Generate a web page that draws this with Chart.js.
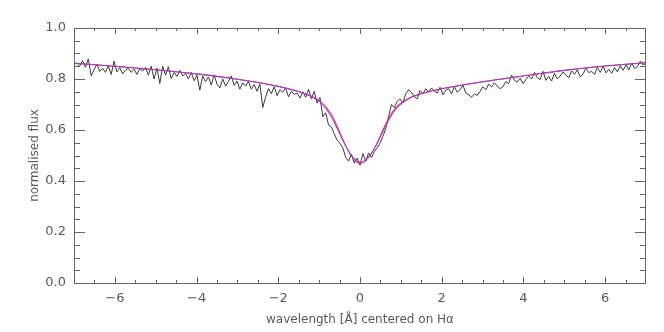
<!DOCTYPE html>
<html>
<head>
<meta charset="utf-8">
<script src="https://cdn.jsdelivr.net/npm/chart.js@4/dist/chart.umd.min.js"></script>
<style>
  html, body { margin: 0; padding: 0; background: #fff; }
  #c { display: block; }
</style>
</head>
<body>
<canvas id="c" width="664" height="332"></canvas>
<script>
// observed spectrum, wavelength offset from H-alpha (Angstrom)
const wave = [
  -7.00,-6.93,-6.86,-6.79,-6.72,-6.65,-6.58,-6.51,-6.44,-6.37,
  -6.30,-6.23,-6.16,-6.09,-6.02,-5.95,-5.88,-5.81,-5.74,-5.67,
  -5.60,-5.53,-5.46,-5.39,-5.32,-5.25,-5.18,-5.11,-5.04,-4.97,
  -4.90,-4.83,-4.76,-4.69,-4.62,-4.55,-4.48,-4.41,-4.34,-4.27,
  -4.20,-4.13,-4.06,-3.99,-3.92,-3.85,-3.78,-3.71,-3.64,-3.57,
  -3.50,-3.43,-3.36,-3.29,-3.22,-3.15,-3.08,-3.01,-2.94,-2.87,
  -2.80,-2.73,-2.66,-2.59,-2.52,-2.45,-2.38,-2.31,-2.24,-2.17,
  -2.10,-2.03,-1.96,-1.89,-1.82,-1.75,-1.68,-1.61,-1.54,-1.47,
  -1.40,-1.33,-1.26,-1.19,-1.12,-1.05,-0.98,-0.91,-0.84,-0.77,
  -0.70,-0.63,-0.56,-0.49,-0.42,-0.35,-0.28,-0.21,-0.14,-0.07,
  0.00,0.07,0.14,0.21,0.28,0.35,0.42,0.49,0.56,0.63,
  0.70,0.77,0.84,0.91,0.98,1.05,1.12,1.19,1.26,1.33,
  1.40,1.47,1.54,1.61,1.68,1.75,1.82,1.89,1.96,2.03,
  2.10,2.17,2.24,2.31,2.38,2.45,2.52,2.59,2.66,2.73,
  2.80,2.87,2.94,3.01,3.08,3.15,3.22,3.29,3.36,3.43,
  3.50,3.57,3.64,3.71,3.78,3.85,3.92,3.99,4.06,4.13,
  4.20,4.27,4.34,4.41,4.48,4.55,4.62,4.69,4.76,4.83,
  4.90,4.97,5.04,5.11,5.18,5.25,5.32,5.39,5.46,5.53,
  5.60,5.67,5.74,5.81,5.88,5.95,6.02,6.09,6.16,6.23,
  6.30,6.37,6.44,6.51,6.58,6.65,6.72,6.79,6.86,6.93,
  7.00
];
const flux = [
  0.858,0.862,0.851,0.872,0.846,0.879,0.812,0.836,0.858,0.830,
  0.842,0.826,0.851,0.818,0.870,0.828,0.845,0.820,0.835,0.842,
  0.826,0.838,0.818,0.840,0.831,0.846,0.815,0.850,0.800,0.843,
  0.782,0.850,0.815,0.848,0.802,0.826,0.810,0.834,0.812,0.822,
  0.800,0.826,0.793,0.815,0.756,0.812,0.790,0.808,0.776,0.816,
  0.780,0.765,0.800,0.772,0.790,0.812,0.775,0.792,0.760,0.785,
  0.772,0.790,0.760,0.778,0.752,0.780,0.688,0.730,0.762,0.742,
  0.770,0.735,0.758,0.748,0.765,0.730,0.752,0.740,0.745,0.725,
  0.750,0.728,0.760,0.722,0.752,0.705,0.728,0.652,0.668,0.620,
  0.612,0.585,0.560,0.548,0.530,0.492,0.478,0.505,0.470,0.490,
  0.462,0.508,0.478,0.510,0.492,0.515,0.530,0.548,0.575,0.605,
  0.652,0.700,0.688,0.712,0.722,0.706,0.742,0.758,0.748,0.730,
  0.722,0.755,0.742,0.762,0.748,0.765,0.752,0.745,0.768,0.738,
  0.756,0.762,0.742,0.770,0.748,0.758,0.775,0.745,0.738,0.728,
  0.742,0.735,0.752,0.770,0.758,0.780,0.768,0.785,0.772,0.762,
  0.770,0.790,0.782,0.815,0.795,0.788,0.803,0.782,0.798,0.812,
  0.800,0.826,0.805,0.798,0.830,0.795,0.810,0.792,0.822,0.800,
  0.812,0.828,0.815,0.805,0.832,0.818,0.836,0.808,0.820,0.842,
  0.825,0.830,0.818,0.846,0.826,0.850,0.824,0.838,0.822,0.845,
  0.828,0.852,0.834,0.855,0.836,0.862,0.842,0.848,0.870,0.855,
  0.862
];

// model fits, sampled
const fitWave = [-7,-6,-5,-4,-3,-2,-1.5,-1.25,-1,-0.85,-0.7,-0.55,-0.4,-0.25,-0.1,0,
  0.1,0.25,0.4,0.55,0.7,0.85,1,1.25,1.5,2,3,4,5,6,7];
const fitPurple = [0.862,0.850,0.836,0.820,0.799,0.771,0.750,0.735,0.712,0.688,0.652,0.604,0.553,0.510,0.481,0.474,
  0.479,0.502,0.540,0.590,0.638,0.677,0.702,0.727,0.742,0.762,0.789,0.812,0.834,0.851,0.864];
const fitRed = [0.862,0.850,0.836,0.820,0.799,0.771,0.751,0.737,0.716,0.695,0.661,0.612,0.556,0.508,0.476,0.469,
  0.474,0.500,0.543,0.597,0.646,0.684,0.706,0.729,0.743,0.762,0.789,0.812,0.834,0.851,0.864];

// axis ticks
const xMajor = [-6,-4,-2,0,2,4,6];
const xMinor = [-6.5,-5.5,-5,-4.5,-3.5,-3,-2.5,-1.5,-1,-0.5,0.5,1,1.5,2.5,3,3.5,4.5,5,5.5,6.5];
const yMajor = [0.2,0.4,0.6,0.8];
const yMinor = [0.05,0.1,0.15,0.25,0.3,0.35,0.45,0.5,0.55,0.65,0.7,0.75,0.85,0.9,0.95];

const axisColor = '#666';
const textColor = '#5a5a5a';

function pairs(xs, ys) {
  return xs.map((x, i) => ({ x: x, y: ys[i] }));
}

// IDL style frame with inward ticks on all four sides
const framePlugin = {
  id: 'frame',
  afterDatasetsDraw(chart) {
    const ctx = chart.ctx;
    const a = chart.chartArea;
    const xs = chart.scales.x, ys = chart.scales.y;
    ctx.save();
    ctx.strokeStyle = axisColor;
    ctx.lineWidth = 1;
    ctx.strokeRect(a.left + 0.5, a.top + 0.5, a.right - a.left - 1, a.bottom - a.top);
    ctx.beginPath();
    function xt(v, len) {
      const p = Math.round(xs.getPixelForValue(v)) + 0.5;
      ctx.moveTo(p, a.bottom); ctx.lineTo(p, a.bottom - len);
      ctx.moveTo(p, a.top); ctx.lineTo(p, a.top + len);
    }
    function yt(v, len) {
      const p = Math.round(ys.getPixelForValue(v)) + 0.5;
      ctx.moveTo(a.left, p); ctx.lineTo(a.left + len, p);
      ctx.moveTo(a.right, p); ctx.lineTo(a.right - len, p);
    }
    xMajor.forEach(v => xt(v, 6));
    xMinor.forEach(v => xt(v, 3));
    yMajor.forEach(v => yt(v, 11));
    yMinor.forEach(v => yt(v, 6));
    ctx.stroke();
    ctx.restore();
  }
};

new Chart(document.getElementById('c'), {
  type: 'line',
  data: {
    datasets: [
      {
        label: 'fit',
        data: pairs(fitWave, fitPurple),
        borderColor: '#9a44c8',
        borderWidth: 1.1,
        pointRadius: 0,
        cubicInterpolationMode: 'monotone',
        order: 1
      },
      {
        label: 'fit2',
        data: pairs(fitWave, fitRed),
        borderColor: '#e8204e',
        borderWidth: 1,
        pointRadius: 0,
        cubicInterpolationMode: 'monotone',
        order: 2
      },
      {
        label: 'spectrum',
        data: pairs(wave, flux),
        borderColor: '#3a3a3a',
        borderWidth: 1,
        pointRadius: 0,
        tension: 0,
        order: 3
      }
    ]
  },
  options: {
    responsive: false,
    animation: false,
    layout: { padding: { top: 28, right: 18, left: 0, bottom: 0 } },
    plugins: { legend: { display: false }, tooltip: { enabled: false } },
    scales: {
      x: {
        type: 'linear',
        min: -7,
        max: 7,
        grid: { display: false, drawTicks: false },
        border: { display: false },
        afterBuildTicks: s => { s.ticks = xMajor.map(v => ({ value: v })); },
        ticks: {
          padding: 8,
          color: textColor,
          font: { family: 'DejaVu Sans', size: 13 },
          maxRotation: 0,
          autoSkip: false,
          callback: v => v < 0 ? '\u2212' + Math.abs(v) : String(v)
        },
        title: {
          display: true,
          text: 'wavelength [Å] centered on Hα',
          color: textColor,
          font: { family: 'DejaVu Sans', size: 12 },
          padding: { top: 0, bottom: 5 }
        },
        afterFit: s => { s.height = 49; }
      },
      y: {
        min: 0,
        max: 1,
        grid: { display: false, drawTicks: false },
        border: { display: false },
        ticks: {
          stepSize: 0.2,
          padding: 8,
          color: textColor,
          font: { family: 'DejaVu Sans', size: 13 },
          callback: v => v.toFixed(1)
        },
        title: {
          display: true,
          text: 'normalised flux',
          color: textColor,
          font: { family: 'DejaVu Sans', size: 12 },
          padding: { top: 28, bottom: 0 }
        },
        afterFit: s => { s.width = 74; }
      }
    }
  },
  plugins: [framePlugin]
});
</script>
</body>
</html>
